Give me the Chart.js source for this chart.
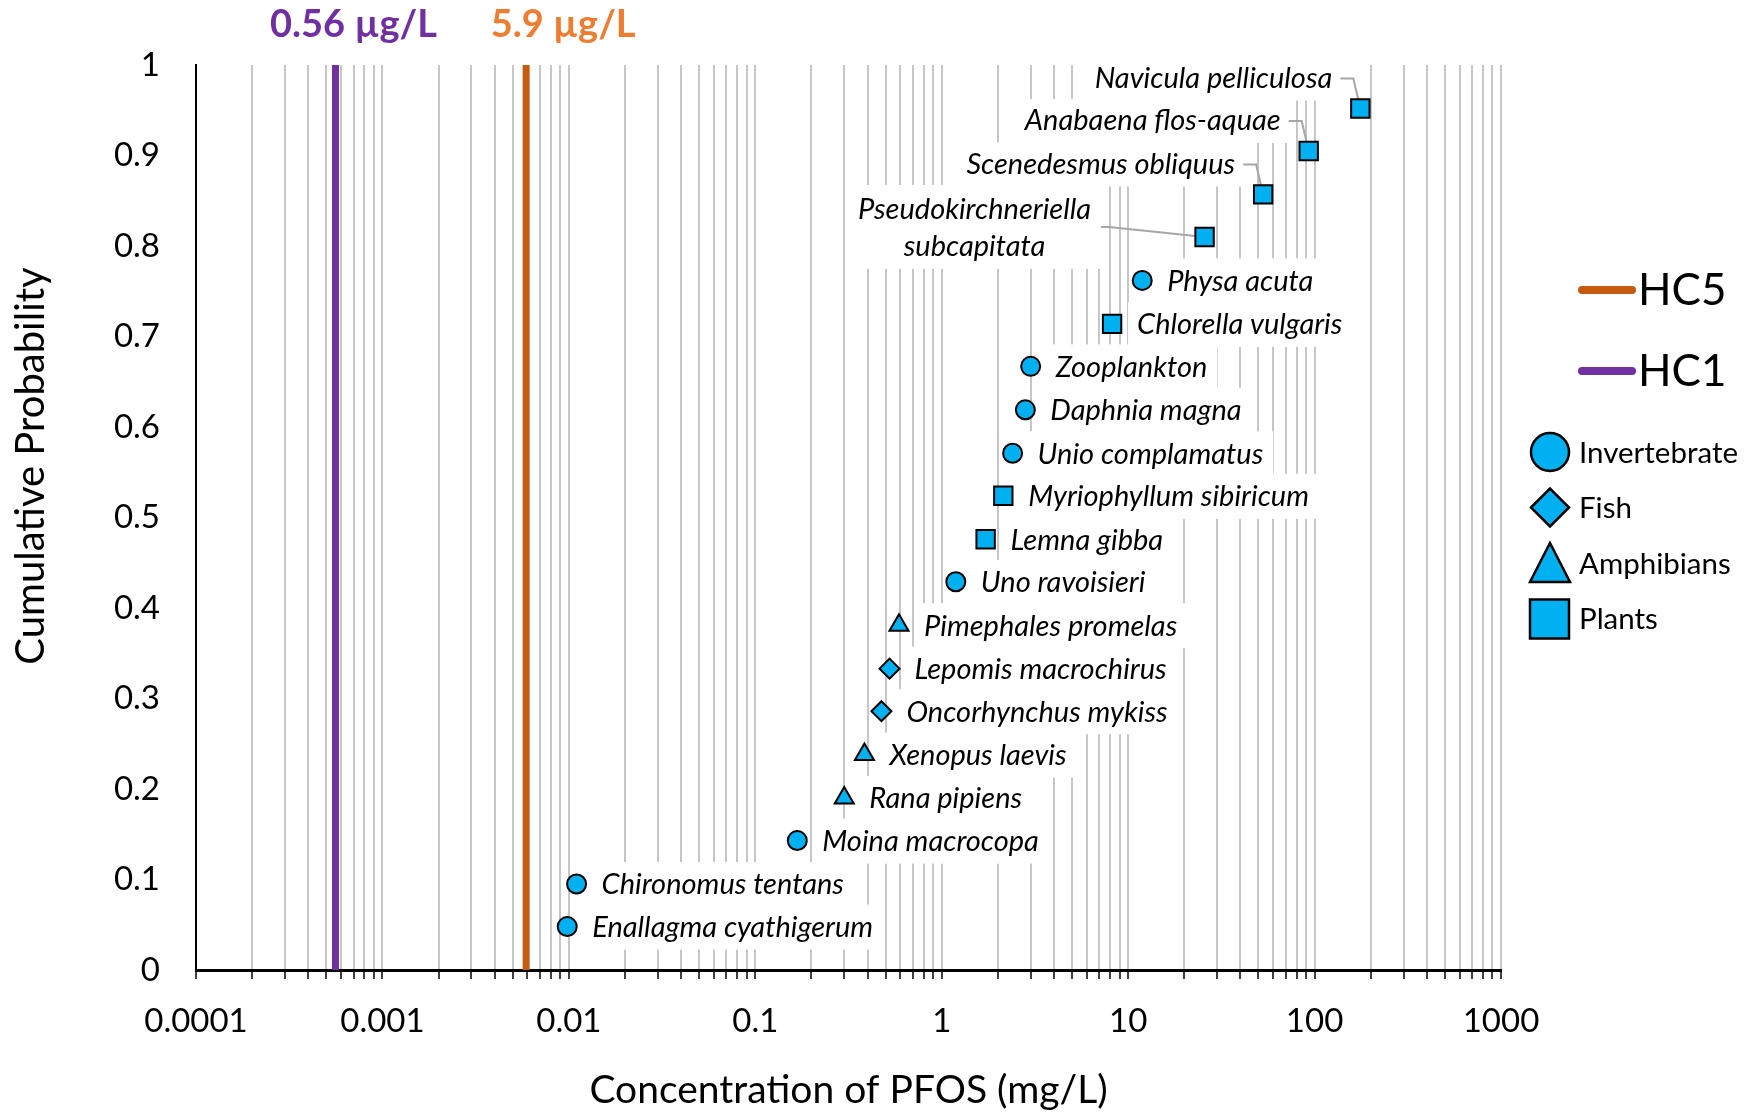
<!DOCTYPE html>
<html lang="en">
<head>
<meta charset="UTF-8">
<title>PFOS species sensitivity distribution</title>
<script src="https://cdn.jsdelivr.net/npm/chart.js"></script>
<style>
  html, body { margin: 0; padding: 0; background: #fff; }
</style>
</head>
<body>
<canvas id="ssd" width="1758" height="1115"></canvas>
<script>
// toxicity values (mg/L) and cumulative probability, one set per taxon
const invertNames = ['Enallagma cyathigerum', 'Chironomus tentans', 'Moina macrocopa', 'Uno ravoisieri',
                     'Unio complamatus', 'Daphnia magna', 'Zooplankton', 'Physa acuta'];
const invertConc = [0.0098, 0.011, 0.168, 1.19, 2.40, 2.81, 3.0, 11.9];
const invertProb = [0.048, 0.095, 0.143, 0.429, 0.571, 0.619, 0.667, 0.762];

const fishNames = ['Oncorhynchus mykiss', 'Lepomis macrochirus'];
const fishConc = [0.475, 0.525];
const fishProb = [0.286, 0.333];

const amphNames = ['Rana pipiens', 'Xenopus laevis', 'Pimephales promelas'];
const amphConc = [0.30, 0.385, 0.59];
const amphProb = [0.190, 0.238, 0.381];

const plantNames = ['Lemna gibba', 'Myriophyllum sibiricum', 'Chlorella vulgaris', 'Pseudokirchneriella subcapitata',
                    'Scenedesmus obliquus', 'Anabaena flos-aquae', 'Navicula pelliculosa'];
const plantConc = [1.72, 2.14, 8.2, 25.7, 53, 93, 176];
const plantProb = [0.476, 0.524, 0.714, 0.810, 0.857, 0.905, 0.952];

// hazardous concentrations (mg/L)
const hc1 = 0.00056;
const hc5 = 0.0059;
const hc1Text = '0.56 µg/L';
const hc5Text = '5.9 µg/L';

const xDecadeLabels = ['0.0001', '0.001', '0.01', '0.1', '1', '10', '100', '1000'];
const yTickLabels = ['0', '0.1', '0.2', '0.3', '0.4', '0.5', '0.6', '0.7', '0.8', '0.9', '1'];
const yTitle = 'Cumulative Probability';

const FONT = 'Lato';
const BLUE = '#00B0F0';
const LABEL_FONT = 'italic 29px ' + FONT;

function pts(conc, prob) {
  return conc.map((c, i) => ({ x: c, y: prob[i] }));
}

// labels that sit up-left of their marker with a leader line
const leftLabels = ['Navicula pelliculosa', 'Anabaena flos-aquae', 'Scenedesmus obliquus'];
const splitLabel = 'Pseudokirchneriella subcapitata';

const labelPlugin = {
  id: 'speciesLabels',
  beforeDatasetsDraw(chart) {
    const ctx = chart.ctx;
    ctx.save();
    ctx.font = LABEL_FONT;
    ctx.textBaseline = 'middle';
    const items = [];
    chart.data.datasets.forEach((ds, di) => {
      if (!ds.names) return;
      chart.getDatasetMeta(di).data.forEach((p, i) => {
        const name = ds.names[i];
        if (name === splitLabel) {
          const lines = name.split(' ');
          const w = Math.max(...lines.map(l => ctx.measureText(l).width));
          const cx = p.x - 230;
          items.push({
            box: [cx - w / 2 - 10, p.y - 52, w + 20, 84],
            texts: [[lines[0], cx, p.y - 27, 'center'], [lines[1], cx, p.y + 10, 'center']],
            leader: [[cx + w / 2 + 10, p.y - 10], [cx + w / 2 + 18, p.y - 10], [p.x, p.y]]
          });
        } else if (leftLabels.includes(name)) {
          const w = ctx.measureText(name).width;
          const tr = p.x - 28, ty = p.y - 30;
          items.push({
            box: [tr - w - 10, ty - 22, w + 20, 44],
            texts: [[name, tr, ty, 'right']],
            leader: [[tr + 8, ty], [p.x - 7, ty], [p.x, p.y]]
          });
        } else {
          const w = ctx.measureText(name).width;
          const tl = p.x + 25, ty = p.y + 1;
          items.push({
            box: [tl - 9, ty - 23, w + 19, 45],
            texts: [[name, tl, ty, 'left']]
          });
        }
      });
    });
    ctx.fillStyle = '#fff';
    items.forEach(it => ctx.fillRect(...it.box));
    ctx.strokeStyle = '#A6A6A6';
    ctx.lineWidth = 2;
    items.forEach(it => {
      if (!it.leader) return;
      ctx.beginPath();
      it.leader.forEach(([x, y], k) => k ? ctx.lineTo(x, y) : ctx.moveTo(x, y));
      ctx.stroke();
    });
    ctx.fillStyle = '#000';
    items.forEach(it => it.texts.forEach(([t, x, y, a]) => {
      ctx.textAlign = a;
      ctx.fillText(t, x, y);
    }));
    ctx.restore();
  }
};

const extrasPlugin = {
  id: 'extras',
  afterDraw(chart) {
    const ctx = chart.ctx;
    const xs = chart.scales.x;
    ctx.save();
    // values above the HC lines
    ctx.font = 'bold 38px ' + FONT;
    ctx.textBaseline = 'middle';
    ctx.textAlign = 'center';
    ctx.fillStyle = '#7030A0';
    ctx.fillText(hc1Text, xs.getPixelForValue(hc1) + 18, 25);
    ctx.fillStyle = '#ED7D31';
    ctx.fillText(hc5Text, xs.getPixelForValue(hc5) + 37, 25);

    // y title, sits a little above the axis middle like the original
    ctx.save();
    ctx.translate(31, 466);
    ctx.rotate(-Math.PI / 2);
    ctx.fillStyle = '#000';
    ctx.font = '40px ' + FONT;
    ctx.fillText(yTitle, 0, 0);
    ctx.restore();

    // legend on the right
    ctx.textAlign = 'left';
    const lineDs = chart.data.datasets.filter(d => d.showLine);
    lineDs.forEach((d, k) => {
      const y = 290 + k * 81;
      ctx.strokeStyle = d.borderColor;
      ctx.lineWidth = 8;
      ctx.lineCap = 'round';
      ctx.beginPath();
      ctx.moveTo(1582, y);
      ctx.lineTo(1632, y);
      ctx.stroke();
      ctx.fillStyle = '#000';
      ctx.font = '44px ' + FONT;
      ctx.fillText(d.label, 1638, y + 1);
    });
    const markDs = chart.data.datasets.filter(d => d.names);
    markDs.forEach((d, k) => {
      const y = 452 + k * 55.5, x = 1550;
      ctx.fillStyle = BLUE;
      ctx.strokeStyle = '#000';
      ctx.lineWidth = 2.5;
      ctx.lineJoin = 'miter';
      ctx.beginPath();
      if (d.pointStyle === 'circle') {
        ctx.arc(x, y, 19, 0, Math.PI * 2);
      } else if (d.pointStyle === 'rectRot') {
        ctx.moveTo(x - 19, y); ctx.lineTo(x, y - 19); ctx.lineTo(x + 19, y); ctx.lineTo(x, y + 19);
      } else if (d.pointStyle === 'triangle') {
        ctx.moveTo(x, y - 20); ctx.lineTo(x + 20, y + 19); ctx.lineTo(x - 20, y + 19);
      } else {
        ctx.rect(x - 20, y - 19, 39, 39);
      }
      ctx.closePath();
      ctx.fill();
      ctx.stroke();
      ctx.fillStyle = '#000';
      ctx.font = '29.5px ' + FONT;
      ctx.fillText(d.label, 1579, y + 1);
    });
    ctx.restore();
  }
};

const markerCommon = {
  backgroundColor: BLUE,
  borderColor: '#000',
  borderWidth: 2
};

new Chart(document.getElementById('ssd'), {
  type: 'scatter',
  data: {
    datasets: [
      { label: 'HC5', data: [{ x: hc5, y: 0 }, { x: hc5, y: 1 }], showLine: true,
        borderColor: '#C55A11', borderWidth: 7, pointRadius: 0 },
      { label: 'HC1', data: [{ x: hc1, y: 0 }, { x: hc1, y: 1 }], showLine: true,
        borderColor: '#7030A0', borderWidth: 7, pointRadius: 0 },
      { label: 'Invertebrate', names: invertNames, data: pts(invertConc, invertProb),
        pointStyle: 'circle', pointRadius: 9.5, ...markerCommon },
      { label: 'Fish', names: fishNames, data: pts(fishConc, fishProb),
        pointStyle: 'rectRot', pointRadius: 10, ...markerCommon },
      { label: 'Amphibians', names: amphNames, data: pts(amphConc, amphProb),
        pointStyle: 'triangle', pointRadius: 11, ...markerCommon },
      { label: 'Plants', names: plantNames, data: pts(plantConc, plantProb),
        pointStyle: 'rect', pointRadius: 13, ...markerCommon }
    ]
  },
  options: {
    responsive: false,
    animation: false,
    layout: { padding: { left: 0, right: 257, top: 65, bottom: 0 } },
    plugins: { legend: { display: false }, tooltip: { enabled: false } },
    scales: {
      x: {
        type: 'logarithmic',
        position: 'bottom',
        min: 0.0001,
        max: 1000,
        afterBuildTicks(scale) {
          const ticks = [];
          xDecadeLabels.forEach((lab, k) => {
            const base = parseFloat(lab);
            const top = k === xDecadeLabels.length - 1 ? 1 : 9;
            for (let m = 1; m <= top; m++) ticks.push({ value: +(m * base).toPrecision(6) });
          });
          scale.ticks = ticks;
        },
        afterFit(scale) { scale.height = 145; },
        ticks: {
          autoSkip: false,
          maxRotation: 0,
          padding: 23,
          color: '#000',
          font: { family: FONT, size: 33 },
          callback(v) {
            const e = Math.log10(v);
            return Math.abs(e - Math.round(e)) < 1e-6 ? xDecadeLabels[Math.round(e) + 4] : '';
          }
        },
        grid: { color: '#C6C6C6', lineWidth: 2, tickColor: '#000', tickWidth: 1.5, tickLength: 9 },
        border: { color: '#000', width: 3 },
        title: { display: true, text: 'Concentration of PFOS (mg/L)', color: '#000',
                 font: { family: FONT, size: 39 }, padding: { top: 0, bottom: 1 } }
      },
      y: {
        min: 0,
        max: 1,
        afterFit(scale) { scale.width = 196; },
        ticks: {
          stepSize: 0.1,
          padding: 36,
          color: '#000',
          font: { family: FONT, size: 33 },
          callback: v => yTickLabels[Math.round(v * 10)]
        },
        grid: { display: false, drawTicks: false },
        border: { color: '#000', width: 2 },
        title: { display: false }
      }
    }
  },
  plugins: [labelPlugin, extrasPlugin]
});
</script>
</body>
</html>
